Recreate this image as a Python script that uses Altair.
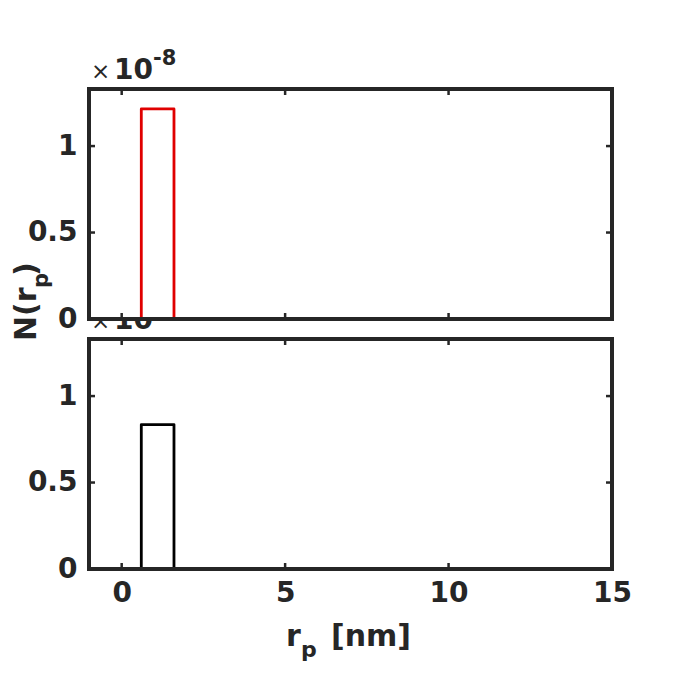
import altair as alt
import pandas as pd

# ---- data (N values in units of 1e-8) ----
x_ticks = [0, 5, 10, 15]
y_ticks = [0, 0.5, 1]
bin_left = [0.6]
bin_right = [1.6]
N_top = [1.215]
N_bottom = [0.835]
x_domain = [-1, 15]
y_domain = [0, 1.33]

W, H = 523, 230
FRAME = "#262626"
RED = "#e00000"
FONT = "DejaVu Sans"

xs = alt.Scale(domain=x_domain, nice=False, zero=False)
ys = alt.Scale(domain=y_domain, nice=False)
one = pd.DataFrame({"a": [0]})


def txt(text, x, y, size, bold=True, angle=0):
    kw = dict(text=text, font=FONT, fontSize=size, align="left",
              baseline="alphabetic", color=FRAME,
              fontWeight="bold" if bold else "normal")
    if angle:
        kw["angle"] = angle
    return alt.Chart(one).mark_text(**kw).encode(x=alt.value(x), y=alt.value(y))


def panel(vals, color, bottom_labels, pre_layers, post_layers):
    bars = pd.DataFrame({"x0": bin_left, "x1": bin_right, "n": vals})
    if bottom_labels:
        xaxis = alt.Axis(values=x_ticks, domain=False, ticks=False, grid=False,
                         labelFont=FONT, labelFontSize=28, labelFontWeight="bold",
                         labelColor=FRAME, labelPadding=10, labelFlush=False,
                         title=None, format="~g")
    else:
        xaxis = None
    yaxis = alt.Axis(values=y_ticks, domain=False, ticks=False, grid=False,
                     labelFont=FONT, labelFontSize=28, labelFontWeight="bold",
                     labelColor=FRAME, labelPadding=12, labelFlush=False,
                     title=None, format="~g")
    rect = alt.Chart(bars).mark_rect(filled=False, color=color, strokeWidth=2.8,
                                     strokeJoin="round").encode(
        x=alt.X("x0:Q", scale=xs, axis=xaxis), x2="x1:Q",
        y=alt.Y("n:Q", scale=ys, axis=yaxis), y2=alt.datum(0))
    tx = pd.DataFrame({"t": x_ticks})
    ty = pd.DataFrame({"t": y_ticks})
    tb = alt.Chart(tx).mark_rule(color=FRAME, strokeWidth=2.5).encode(
        x=alt.X("t:Q", scale=xs), y=alt.value(H), y2=alt.value(H - 6))
    tt = alt.Chart(tx).mark_rule(color=FRAME, strokeWidth=2.5).encode(
        x=alt.X("t:Q", scale=xs), y=alt.value(0), y2=alt.value(6))
    tl = alt.Chart(ty).mark_rule(color=FRAME, strokeWidth=2.5).encode(
        y=alt.Y("t:Q", scale=ys), x=alt.value(0), x2=alt.value(6))
    tr = alt.Chart(ty).mark_rule(color=FRAME, strokeWidth=2.5).encode(
        y=alt.Y("t:Q", scale=ys), x=alt.value(W), x2=alt.value(W - 6))
    frame = alt.Chart(one).mark_rect(filled=False, stroke=FRAME, strokeWidth=4).encode(
        x=alt.value(0), x2=alt.value(W), y=alt.value(0), y2=alt.value(H))
    layers = pre_layers + [rect, tb, tt, tl, tr, frame] + post_layers
    return alt.layer(*layers).properties(width=W, height=H)


white = alt.Chart(one).mark_rect(color="white").encode(
    x=alt.value(0), x2=alt.value(W), y=alt.value(0), y2=alt.value(H))

# invisible anchor that fixes the top-left corner of the drawing
anchor = alt.Chart(one).mark_rule(opacity=0).encode(
    x=alt.value(-80), x2=alt.value(-79), y=alt.value(-80))

top_pre = [
    anchor,
    # exponent of the lower panel (partly hidden by the upper panel)
    txt("×", 2, 240, 23, bold=False),
    txt("10", 25, 240, 28),
    txt("-8", 64, 226, 21),
    white,
]
top_post = [
    txt("×", 2, -10, 23, bold=False),
    txt("10", 25, -10, 28),
    txt("-8", 64, -24, 21),
    # y title N(r_p)
    txt("N(r", -53, 252, 30, angle=270),
    txt("p", -41, 199, 21, angle=270),
    txt(")", -53, 187, 30, angle=270),
]
bottom_post = [
    txt("r", 197, 307, 30),
    txt("p", 212, 318, 22),
    txt("[nm]", 242, 307, 30),
]

top = panel(N_top, RED, False, top_pre, top_post)
bottom = panel(N_bottom, "black", True, [], bottom_post)

chart = alt.vconcat(top, bottom, spacing=20, bounds="flush").properties(
    padding=0,
).configure_view(stroke="transparent")

chart.save("out.html", embed_options={"renderer": "svg", "actions": False})
